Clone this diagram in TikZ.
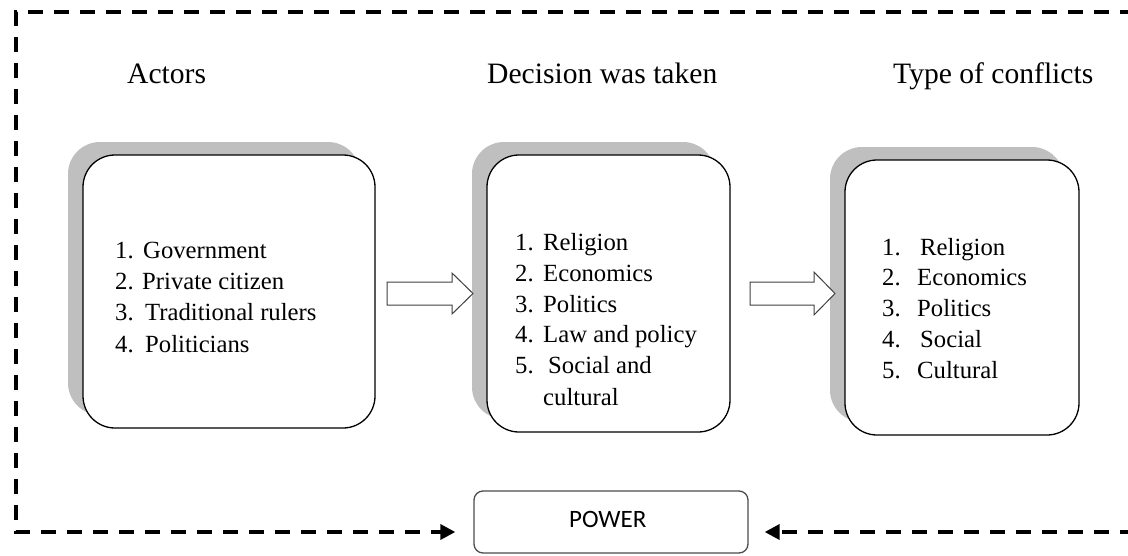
\documentclass[tikz,border=0pt]{standalone}
\usepackage{fontspec}
\setmainfont{Liberation Serif}
\newfontfamily\calib{Carlito}
\usetikzlibrary{arrows.meta,shadows}
\begin{document}
\begin{tikzpicture}[x=1pt,y=-1pt,
  bigbox/.style={draw=black, line width=1.3pt, fill=white, rounded corners=32pt,
    inner sep=0pt,
    drop shadow={shadow xshift=-15pt, shadow yshift=13pt, fill=gray!50, opacity=1}},
  head/.style={anchor=base west, inner sep=0pt, font=\fontsize{29.6}{34}\selectfont},
  item/.style={anchor=base west, inner sep=0pt, font=\fontsize{24.7}{30}\selectfont},
  blockarrow/.style={draw=black!75, line width=1pt, fill=white},
  flow/.style={line width=3.5pt, dash pattern=on 15pt off 11pt, -{Triangle[length=15pt,width=15pt]}},
  powerbox/.style={draw=black!70, line width=1.3pt, rounded corners=9pt, inner sep=0pt}
]
\useasboundingbox (0,0) rectangle (1128,555);

% headings
\node[head] (h1) at (127,83) {Actors};
\node[head] (h2) at (487,83) {Decision was taken};
\node[head] (h3) at (893,83) {Type of conflicts};

% boxes
\node[bigbox, minimum width=292pt, minimum height=273pt] (b1) at (229,291.5) {};
\node[bigbox, minimum width=243pt, minimum height=277pt] (b2) at (608.5,293.5) {};
\node[bigbox, minimum width=234pt, minimum height=275pt] (b3) at (962,297.5) {};

% box 1 items
\node[item] (a1n) at (115,258) {1.};
\node[item] (a1) at (143,258) {Government};
\node[item] (a2n) at (115,289.5) {2.};
\node[item] (a2) at (142,289.5) {Private citizen};
\node[item] (a3n) at (115,320.5) {3.};
\node[item] (a3) at (145,320.5) {Traditional rulers};
\node[item] (a4n) at (115,352) {4.};
\node[item] (a4) at (145,352) {Politicians};

% box 2 items
\node[item] (d1n) at (515,250) {1.};
\node[item] (d1) at (543,250) {Religion};
\node[item] (d2n) at (515,281.5) {2.};
\node[item] (d2) at (543,281.5) {Economics};
\node[item] (d3n) at (515,312) {3.};
\node[item] (d3) at (543,312) {Politics};
\node[item] (d4n) at (515,342.5) {4.};
\node[item] (d4) at (543,342.5) {Law and policy};
\node[item] (d5n) at (515,373.5) {5.};
\node[item] (d5) at (548,373.5) {Social and};
\node[item] (d6) at (543,405) {cultural};

% box 3 items
\node[item] (t1n) at (882,255) {1.};
\node[item] (t1) at (920,255) {Religion};
\node[item] (t2n) at (882,285.5) {2.};
\node[item] (t2) at (917,285.5) {Economics};
\node[item] (t3n) at (882,316) {3.};
\node[item] (t3) at (917,316) {Politics};
\node[item] (t4n) at (882,347) {4.};
\node[item] (t4) at (920,347) {Social};
\node[item] (t5n) at (882,378) {5.};
\node[item] (t5) at (917,378) {Cultural};

% block arrows
\draw[blockarrow] (387,282) -- (452,282) -- (452,273) -- (473,293.5) -- (452,314)
  -- (452,305) -- (387,305) -- cycle;
\draw[blockarrow] (750,282) -- (814,282) -- (814,272) -- (835,293.5) -- (814,315)
  -- (814,305) -- (750,305) -- cycle;

% power box
\node[powerbox, minimum width=274pt, minimum height=62pt] (power) at (611,522) {};
\node[anchor=base west, inner sep=0pt, font=\calib\fontsize{25}{30}\selectfont] (ptext) at (569,527) {POWER};

% dashed frame
\coordinate (tr) at (1135,12);
\coordinate (tl) at (16,12);
\coordinate (bl) at (16,532);
\coordinate (br) at (1135,532);
\draw[flow] (tr) -- (tl) -- (bl) -- (bl -| power.west) [shorten >=18pt];
\draw[flow, shorten >=16pt] (br) -- (br -| power.east);
\end{tikzpicture}
\end{document}
